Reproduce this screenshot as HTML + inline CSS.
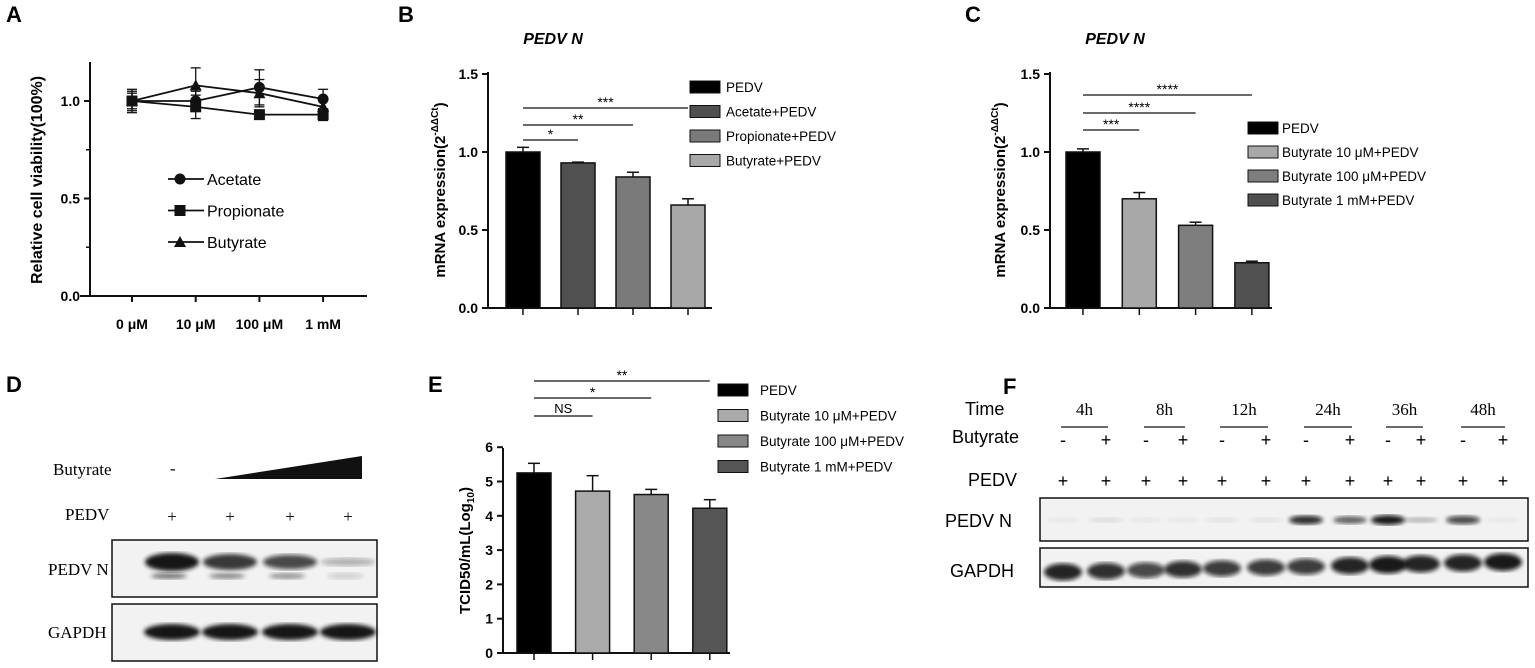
<!DOCTYPE html>
<html><head><meta charset="utf-8"><style>
body{margin:0;background:#fff}
svg{display:block;font-family:"Liberation Sans",Arial,sans-serif}
.pl{font-weight:bold;font-size:22px}
.tk{font-weight:bold;font-size:14px}
.ser{font-family:"Liberation Serif",serif;font-size:17px}
</style></head><body>
<svg id="s" width="1535" height="668" viewBox="0 0 1535 668">
<defs>
<filter id="blur"><feGaussianBlur stdDeviation="2.2"/></filter>
</defs>
<text class="pl" x="6" y="22">A</text>
<text class="pl" x="398" y="22">B</text>
<text class="pl" x="965" y="22">C</text>
<text class="pl" x="6" y="392">D</text>
<text class="pl" x="428" y="392">E</text>
<text class="pl" x="1003" y="394">F</text>
<g id="g"></g>
</svg>
<script>
// Panel A
const aCats=["0 μM","10 μM","100 μM","1 mM"];
const aAcetate=[1.0,1.0,1.07,1.01];
const aAcetateErr=[0.06,0.05,0.09,0.05];
const aPropionate=[1.0,0.97,0.93,0.93];
const aPropionateErr=[0.05,0.06,0.02,0.03];
const aButyrate=[1.0,1.08,1.04,0.97];
const aButyrateErr=[0.04,0.09,0.07,0.03];
const aTicks=["0.0","0.5","1.0"];
// Panel B
const bCats=["PEDV","Acetate+PEDV","Propionate+PEDV","Butyrate+PEDV"];
const bVals=[1.0,0.93,0.84,0.66];
const bErr=[0.03,0.005,0.03,0.04];
const bSig=["*","**","***"];
// Panel C
const cCats=["PEDV","Butyrate 10 μM+PEDV","Butyrate 100 μM+PEDV","Butyrate 1 mM+PEDV"];
const cVals=[1.0,0.70,0.53,0.29];
const cErr=[0.02,0.04,0.02,0.01];
const cSig=["***","****","****"];
const bcTicks=["0.0","0.5","1.0","1.5"];
// Panel E
const eCats=["PEDV","Butyrate 10 μM+PEDV","Butyrate 100 μM+PEDV","Butyrate 1 mM+PEDV"];
const eVals=[5.25,4.72,4.62,4.22];
const eErr=[0.28,0.45,0.15,0.25];
const eSig=["NS","*","**"];
const eTicks=["0","1","2","3","4","5","6"];
// Panel F
const fTimes=["4h","8h","12h","24h","36h","48h"];
const fPedvN=[0.05,0.1,0.05,0.05,0.08,0.08,0.85,0.6,0.95,0.25,0.75,0.05];
const fGapdh=[0.9,0.85,0.75,0.85,0.8,0.8,0.8,0.9,0.95,0.9,0.9,0.95];

const NS="http://www.w3.org/2000/svg";
const G=document.getElementById('g');
function el(t,a,txt,p){const e=document.createElementNS(NS,t);for(const k in a)e.setAttribute(k,a[k]);if(txt!==undefined)e.textContent=txt;(p||G).appendChild(e);return e;}
function line(x1,y1,x2,y2,w,c){return el('line',{x1,y1,x2,y2,stroke:c||'#111','stroke-width':w||1.5});}

// ---------- Panel A ----------
const ay=v=>296-v*195, ax=i=>132+i*63.7;
line(90,62,90,297,2);line(80,296,367,296,2);
aTicks.forEach((t,i)=>{const v=i*0.5;line(84,ay(v),90,ay(v),2);
 const e=el('text',{x:80,y:ay(v)+5,'text-anchor':'end',class:'tk'},t);
 });
[0.25,0.75].forEach(v=>line(86,ay(v),90,ay(v),1.5));
aCats.forEach((c,i)=>{line(ax(i),296,ax(i),302,2);
 const e=el('text',{x:ax(i),y:329,'text-anchor':'middle',class:'tk'},c);
 });
{const e=el('text',{x:0,y:0,transform:'translate(42,180) rotate(-90)','text-anchor':'middle','font-size':'16px','font-weight':'bold'},'Relative cell viability(100%)');
 }
function marker(k,x,y){if(k==0)return el('circle',{cx:x,cy:y,r:5.5,fill:'#111'});
 if(k==1)return el('rect',{x:x-5.5,y:y-5.5,width:11,height:11,fill:'#111'});
 return el('polygon',{points:`${x},${y-6} ${x-6},${y+5} ${x+6},${y+5}`,fill:'#111'});}
[[aAcetate,aAcetateErr,'acetate'],[aPropionate,aPropionateErr,'propionate'],[aButyrate,aButyrateErr,'butyrate']].forEach(([d,er,n],k)=>{
 const pts=d.map((v,i)=>ax(i)+','+ay(v)).join(' ');
 const pl=el('polyline',{points:pts,fill:'none',stroke:'#111','stroke-width':1.8});
 
 d.forEach((v,i)=>{const x=ax(i);line(x,ay(v+er[i]),x,ay(v-er[i]),1.3);line(x-5,ay(v+er[i]),x+5,ay(v+er[i]),1.3);line(x-5,ay(v-er[i]),x+5,ay(v-er[i]),1.3);
  const m=marker(k,x,ay(v));});
 const ly=179+k*31.5;line(168,ly,204,ly,1.8);const lm=marker(k,180,ly);
 
 const t=el('text',{x:207,y:ly+6,'font-size':'16px'},['Acetate','Propionate','Butyrate'][k]);
 });

// ---------- Bar panel helper ----------
function barPanel(o){
 const y=v=>o.y0-v*o.sc, x=i=>o.x0+i*o.dx;
 line(o.ax,o.top,o.ax,o.y0+1,2);line(o.ax,o.y0,o.xend,o.y0,2);
 o.ticks.forEach((t,i)=>{const v=i*o.step;line(o.ax-6,y(v),o.ax,y(v),2);
  const e=el('text',{x:o.ax-10,y:y(v)+5,'text-anchor':'end',class:'tk'},t);
  });
 o.vals.forEach((v,i)=>{const cx=x(i);line(cx,o.y0,cx,o.y0+7,1.5);
  line(cx,y(v),cx,y(v+o.err[i]),1.5);line(cx-6,y(v+o.err[i]),cx+6,y(v+o.err[i]),1.5);
  const r=el('rect',{x:cx-17,y:y(v),width:34,height:o.y0-y(v),fill:o.cols[i],stroke:'#111','stroke-width':1.5});
  });
 o.sig.forEach((s,i)=>{const yy=o.sy[i];line(x(0),yy,x(i+1),yy,1.2);
  const t=el('text',{x:(x(0)+x(i+1))/2,y:yy-(s=='NS'?3:1),'text-anchor':'middle','font-size':s=='NS'?'13px':'14px'},s);
  });
 o.cats.forEach((c,i)=>{const ly=o.ly+i*o.ldy;
  const r=el('rect',{x:o.lx,y:ly-6,width:30,height:12,fill:o.cols[i],stroke:'#111','stroke-width':1});
  
  const t=el('text',{x:o.lx+o.lt,y:ly+5,'font-size':'13.5px'},c);
  });
 const e=el('text',{x:0,y:0,transform:`translate(${o.tx},${(o.top+o.y0)/2}) rotate(-90)`,'text-anchor':'middle','font-size':'15px','font-weight':'bold'});
 e.innerHTML=o.title;
 if(o.head){const h=el('text',{x:o.hx,y:44,'text-anchor':'middle','font-size':'16px','font-weight':'bold','font-style':'italic'},o.head);
  }
}
const mt='mRNA expression(2<tspan font-size="10" dy="-7">-ΔΔCt</tspan><tspan dy="7">)</tspan>';
barPanel({p:'b',ax:488,y0:308,top:72,sc:156,step:0.5,xend:712,x0:523,dx:55,vals:bVals,err:bErr,cols:['#000','#505050','#7a7a7a','#a8a8a8'],
 ticks:bcTicks,sig:bSig,sy:[140,125,108],cats:bCats,lx:690,lt:36,ly:87,ldy:24.5,tx:445,title:mt,head:'PEDV N',hx:553});
barPanel({p:'c',ax:1050,y0:308,top:72,sc:156,step:0.5,xend:1272,x0:1083,dx:56.3,vals:cVals,err:cErr,cols:['#000','#a8a8a8','#7e7e7e','#505050'],
 ticks:bcTicks,sig:cSig,sy:[130,113,95],cats:cCats,lx:1248,lt:34,ly:128,ldy:24,tx:1005,title:mt,head:'PEDV N',hx:1115});
barPanel({p:'e',ax:503,y0:653,top:448,sc:34.3,step:1,xend:730,x0:534,dx:58.6,vals:eVals,err:eErr,cols:['#000','#aaaaaa','#888','#555'],
 ticks:eTicks,sig:eSig,sy:[416,398,381],cats:eCats,lx:718,lt:42,ly:390,ldy:25.5,tx:470,title:'TCID50/mL(Log<tspan font-size="10" dy="4">10</tspan><tspan dy="-4">)</tspan>'});

// ---------- Panel D ----------
function txt(x,y,s,a,n){const t=el('text',Object.assign({x,y},a),s);return t;}
txt(53,475,'Butyrate',{class:'ser'},'d-butyrate-label');txt(170,474,'-',{class:'ser'},'d-minus');
{const p=el('polygon',{points:'215,479 362,456 362,479',fill:'#111'});}
txt(65,520,'PEDV',{class:'ser'},'d-pedv-label');
const dLanes=[172,230,290,348];
dLanes.forEach(x=>txt(x,522,'+',{class:'ser','text-anchor':'middle'},'d-plus'));
txt(48,575,'PEDV N',{class:'ser'},'d-pedvn-label');txt(48,638,'GAPDH',{class:'ser'},'d-gapdh-label');
function blot(x,y,w,h,n){const r=el('rect',{x,y,width:w,height:h,fill:'#f2f2f2',stroke:'#111','stroke-width':1.5});}
blot(112,540,265,57,'d-pedvn-blot');blot(112,604,265,57,'d-gapdh-blot');
const dN=[1,0.85,0.75,0.3];
dLanes.forEach((x,i)=>{el('ellipse',{cx:x,cy:562,rx:27,ry:7*dN[i]+2,fill:`rgba(20,20,20,${dN[i]})`,filter:'url(#blur)'});
 el('ellipse',{cx:x-3,cy:576,rx:18,ry:3,fill:`rgba(40,40,40,${dN[i]*0.6})`,filter:'url(#blur)'});
 el('ellipse',{cx:x,cy:632,rx:28,ry:8,fill:'#151515',filter:'url(#blur)'});});

// ---------- Panel F ----------
txt(965,415,'Time',{'font-size':'18px'},'f-time-label');txt(952,443,'Butyrate',{'font-size':'18px'},'f-butyrate-label');
txt(968,486,'PEDV',{'font-size':'18px'},'f-pedv-label');txt(945,527,'PEDV N',{'font-size':'18px'},'f-pedvn-label');
txt(950,577,'GAPDH',{'font-size':'18px'},'f-gapdh-label');
const fLanes=[1063,1106,1146,1183,1222,1266,1306,1350,1388,1421,1463,1503];
fTimes.forEach((t,i)=>{const a=fLanes[2*i],b=fLanes[2*i+1];
 txt((a+b)/2,415,t,{'font-family':'Liberation Serif,serif','font-size':'17px','text-anchor':'middle'},'f-time-'+t);
 line(a-2,427,b+2,427,1.3);
 txt(a,446,'-',{'font-size':'18px','text-anchor':'middle'},'f-minus');txt(b,446,'+',{'font-size':'18px','text-anchor':'middle'},'f-plus');});
fLanes.forEach(x=>txt(x,487,'+',{'font-size':'18px','text-anchor':'middle'},'f-pedv-plus'));
blot(1040,498,488,43,'f-pedvn-blot');blot(1040,548,488,39,'f-gapdh-blot');
fLanes.forEach((x,i)=>{const v=fPedvN[i];
 el('ellipse',{cx:x,cy:520,rx:17,ry:2+3*v,fill:`rgba(10,10,10,${v})`,filter:'url(#blur)'});
 const g=fGapdh[i];el('ellipse',{cx:x,cy:572-i*0.9,rx:19,ry:4+5*g,fill:`rgba(10,10,10,${g})`,filter:'url(#blur)'});});
</script>
</body></html>
